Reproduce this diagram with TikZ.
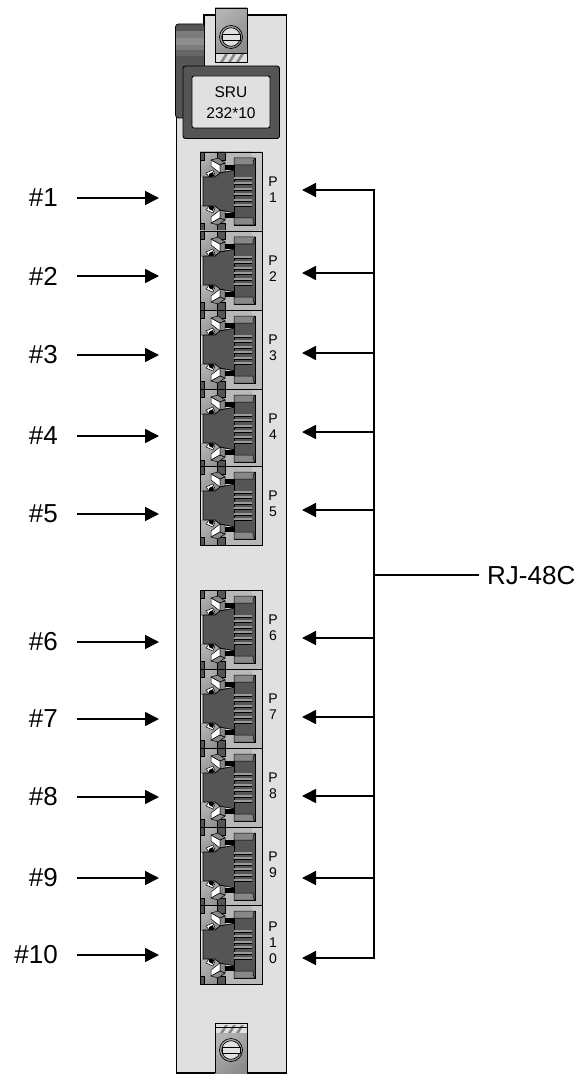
\documentclass[tikz,border=0pt]{standalone}
\usepackage{fontspec}
\setmainfont{Liberation Sans}
\usetikzlibrary{arrows.meta,shadings}
\definecolor{plate}{HTML}{E0E0E0}
\definecolor{dk}{HTML}{555555}
\definecolor{md}{HTML}{888888}
\definecolor{lt}{HTML}{C8C8C8}
\definecolor{sl}{HTML}{B8B8B8}
\definecolor{slot}{HTML}{9A9A9A}
\definecolor{bandone}{HTML}{7C7C7C}
\definecolor{bandtwo}{HTML}{8E8E8E}
\definecolor{bandthree}{HTML}{666666}
\tikzset{
  x=1pt,y=-1pt,
  lbl/.style={font=\fontsize{26}{26}\selectfont,inner sep=0pt,anchor=east},
  plbl/.style={font=\fontsize{14}{16}\selectfont,inner sep=0pt,align=center},
  srutxt/.style={font=\fontsize{15.5}{15.5}\selectfont,inner sep=0pt},
  arr/.style={line width=1.5pt,-{Triangle[length=14pt,width=14pt]}},
  bus/.style={line width=1.5pt},
  portbox/.style={draw=black,line width=0.9pt,minimum width=62pt,minimum height=79pt,inner sep=0pt,fill=none},
  metal/.style={left color=black!30,middle color=white,right color=black!45,shading angle=40},
  screwhead/.pic={
    \draw[line width=0.7pt] (0,0) circle (11.5);
    \draw[line width=0.7pt,fill=plate] (0,0) circle (9.3);
    \draw[line width=0.7pt,fill=plate] (-9,-3) rectangle (9,3);
  },
  rj/.pic={
    % metal background
    \path[metal] (0,0) rectangle (25,25);
    \path[metal] (0,54) rectangle (25,79);
    \path[left color=sl,middle color=white,right color=sl,shading angle=60] (25,0) rectangle (62,14);
    \path[left color=sl,middle color=white,right color=sl,shading angle=120] (25,65) rectangle (62,79);
    \path[left color=lt,middle color=white,right color=sl,shading angle=20] (52,0) rectangle (62,79);
    % vertical dark strips
    \filldraw[fill=dk,line width=.5pt] (0,0) rectangle (4,8);
    \filldraw[fill=dk,line width=.5pt] (0,71) rectangle (4,79);
    \filldraw[fill=dk,line width=.5pt] (17,0) rectangle (25,8);
    \filldraw[fill=dk,line width=.5pt] (17,71) rectangle (25,79);
    % clips top
    \filldraw[fill=white,line width=.5pt] (11,8) -- (20,13) -- (20,21) -- (11,14) -- cycle;
    \filldraw[fill=md,line width=.5pt] (11,8) -- (18,6) -- (25,11) -- (20,13) -- cycle;
    \filldraw[fill=md,line width=.5pt] (20,13) -- (25,11) -- (25,21) -- (20,21) -- cycle;
    \filldraw[fill=white,line width=.5pt] (6,21) -- (13,18) -- (15,23) -- (10,26) -- cycle;
    % clips bottom
    \filldraw[fill=white,line width=.5pt] (11,71) -- (20,66) -- (20,58) -- (11,65) -- cycle;
    \filldraw[fill=md,line width=.5pt] (11,71) -- (18,73) -- (25,68) -- (20,66) -- cycle;
    \filldraw[fill=md,line width=.5pt] (20,66) -- (25,68) -- (25,58) -- (20,58) -- cycle;
    \filldraw[fill=white,line width=.5pt] (6,58) -- (13,61) -- (15,56) -- (10,53) -- cycle;
    % body
    \fill[black] (25,13) rectangle (35,18);
    \fill[black] (25,61) rectangle (35,66);
    \fill[black] (9,22) -- (13,20) -- (14,24) -- (9,27) -- cycle;
    \fill[black] (9,57) -- (13,59) -- (14,55) -- (9,52) -- cycle;
    \filldraw[fill=dk,draw=black,line width=.7pt] (3,25) -- (15,25) -- (20,21) -- (35,18) -- (35,61) -- (20,58) -- (15,54) -- (3,54) -- cycle;
    % right module
    \filldraw[fill=dk,draw=black,line width=.8pt] (34,6) -- (55,6) -- (55,73) -- (34,73) -- cycle;
    \filldraw[fill=md,draw=black,line width=.5pt] (34,6) -- (55,6) -- (53,9) -- (53,13) -- (34,13) -- cycle;
    \filldraw[fill=md,draw=black,line width=.5pt] (34,73) -- (55,73) -- (53,70) -- (53,66) -- (34,66) -- cycle;
    \foreach \yy in {25,30,36,41,47,52} {
      \fill[slot] (34,\yy) rectangle (52,\yy+2);
      \draw[line width=.7pt] (34,\yy+2.4) -- (52,\yy+2.4);
    }
  }
}
\begin{document}
\begin{tikzpicture}
\useasboundingbox (0,0) rectangle (578,1075);
\fill[white] (0,0) rectangle (578,1075);

% faceplate
\filldraw[fill=plate,draw=black,line width=1.1pt] (204,15) -- (286.5,15) -- (286.5,1073) -- (176.5,1073) -- (176.5,116) -- (204,116) -- cycle;

% dark handle
\fill[dk,rounded corners=3pt] (175.5,24) -- (204,24) -- (204,118) -- (175.5,118) -- cycle;
\fill[bandone] (176,31) rectangle (204,38);
\fill[bandtwo] (176,38) rectangle (204,45);
\fill[bandone] (176,45) rectangle (204,50);
\fill[bandthree] (176,50) rectangle (204,56);
\draw[line width=.8pt,rounded corners=3pt] (204,24) -- (175.5,24) -- (175.5,118) -- (204,118);

% top bracket
\path[metal] (215,8) rectangle (247,53);
\fill[plate] (215,54) rectangle (247,62);
\foreach \xo in {220,228,236} \fill[md] (\xo,62) -- (\xo+5,54) -- (\xo+8,54) -- (\xo+3,62) -- cycle;
\draw[line width=.9pt] (215,8) rectangle (247,62);
\draw[line width=1pt] (215,53.5) -- (247,53.5);
\pic at (231,37) {screwhead};

% bottom bracket
\path[metal] (215,1033) rectangle (247,1073);
\fill[plate] (215,1024) rectangle (247,1033);
\foreach \xo in {220,228,236} \fill[md] (\xo,1033) -- (\xo+5,1025) -- (\xo+8,1025) -- (\xo+3,1033) -- cycle;
\draw[line width=.9pt] (215,1073) -- (215,1023) -- (247,1023) -- (247,1073);
\draw[line width=1pt] (215,1027) -- (247,1027);
\pic at (231,1050) {screwhead};

% label
\filldraw[fill=dk,draw=black,line width=.9pt,rounded corners=2.5pt] (183,66) rectangle (279.5,138.5);
\filldraw[fill=plate,draw=black,line width=.9pt,rounded corners=2pt] (192,76) rectangle (270,128);
\node[srutxt] (srua) at (231,92) {SRU};
\node[srutxt] (srub) at (231,113) {232*10};

% ports
\foreach \n/\ty/\ly/\ry in {1/152/198/190,2/231/276/273,3/310/355/353,4/389/436/432,5/466/514/510,6/590/642/638,7/669/719/717,8/748/797/796,9/827/878/878}{
  \pic at (200,\ty) {rj};
  \node[portbox] (port\n) at (231,\ty+39.5) {};
  \node[plbl] (plabel\n) at (273,\ty+38) {P\\\n};
  \node[lbl] (num\n) at (58,\ly) {\#\n};
  \coordinate (la\n) at (159,\ly);
  \coordinate (ra\n) at (302,\ry);
  \coordinate (bus\n) at (374,\ry);
  \draw[arr] (77,\ly) -- (la\n);
  \draw[arr] (bus\n) -- (ra\n);
}
\pic at (200,905) {rj};
\node[portbox] (port10) at (231,944.5) {};
\node[plbl] (plabel10) at (273,943) {P\\1\\0};
\node[lbl] (num10) at (58,955) {\#10};
\coordinate (la10) at (159,955);
\coordinate (ra10) at (302,958);
\coordinate (bus10) at (374,958);
\draw[arr] (77,955) -- (la10);
\draw[arr] (bus10) -- (ra10);

% bus
\draw[bus] ([yshift=.75pt]bus1) -- ([yshift=-.75pt]bus10);
\node[font=\fontsize{26}{26}\selectfont,inner sep=0pt,anchor=west] (rj) at (487,576) {RJ-48C};
\coordinate (tap) at (374,575);
\coordinate (tapend) at (479,575);
\draw[bus] (tap) -- (tapend);
\end{tikzpicture}
\end{document}
